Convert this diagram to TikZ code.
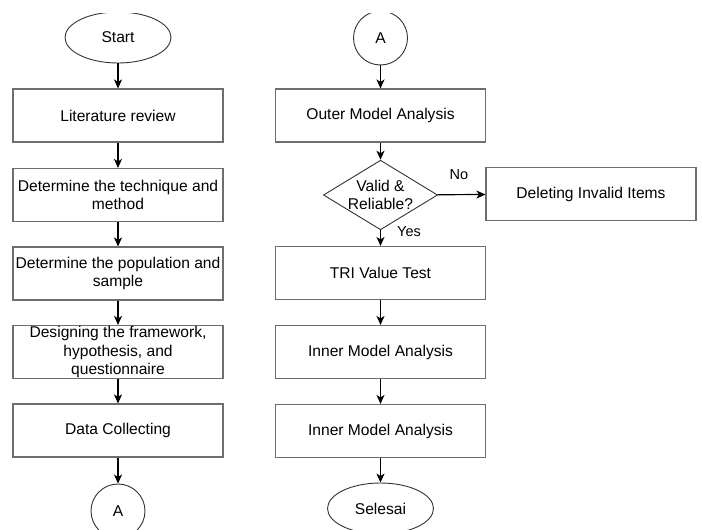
\documentclass[tikz,border=0pt]{standalone}
\usepackage{fontspec}
\setmainfont{Liberation Sans}
\usetikzlibrary{shapes.geometric,arrows.meta}
\definecolor{edgegray}{RGB}{110,110,110}
\tikzset{
  txt/.style={font=\fontsize{15.6}{18.5}\selectfont, text=black, align=center},
  procbox/.style={txt, draw=edgegray, line width=1.1pt, rectangle, minimum width=210pt, minimum height=53pt, inner sep=0pt},
  termnode/.style={txt, draw=black!80, line width=0.9pt, ellipse, minimum width=106pt, minimum height=51pt, inner sep=0pt},
  connnode/.style={txt, draw=black!80, line width=0.9pt, circle, minimum size=54pt, inner sep=0pt},
  decnode/.style={txt, draw=black!80, line width=0.9pt, diamond, minimum width=105pt, minimum height=64pt, inner sep=0pt, aspect=1.64},
  flow/.style={draw=black, line width=1.2pt, -{Stealth[length=9pt,width=8pt,inset=2.5pt]}},
  flowbold/.style={flow, line width=1.8pt},
  lbl/.style={font=\fontsize{14.5}{17}\selectfont, text=black}
}
\begin{document}
\begin{tikzpicture}[x=1pt,y=-1pt]
\useasboundingbox (0,0) rectangle (702,530);
\fill[white] (0,0) rectangle (702,530);
\begin{scope}
\clip (0,13) rectangle (702,530);
% left column
\node[termnode] (start) at (118,37.5) {Start};
\node[procbox] (b1) at (118,115.5) {Literature review};
\node[procbox] (b2) at (118,195) {Determine the technique and\\method};
\node[procbox] (b3) at (118,273.5) {Determine the population and\\sample};
\node[procbox] (b4) at (118,352) {Designing the framework,\\hypothesis, and\\questionnaire};
\node[procbox] (b5) at (118,430.5) {Data Collecting};
\node[connnode] (aend) at (118,511) {A};
% right column
\node[connnode] (astart) at (380.5,38) {A};
\node[procbox] (outer) at (380.5,115.5) {Outer Model Analysis};
\node[decnode] (valid) at (380.5,195) {Valid \&\\Reliable?};
\node[procbox] (del) at (591,194) {Deleting Invalid Items};
\node[procbox] (tri) at (380.5,273) {TRI Value Test};
\node[procbox] (inner1) at (380.5,352) {Inner Model Analysis};
\node[procbox] (inner2) at (380.5,431) {Inner Model Analysis};
\node[termnode] (end) at (380.5,508.5) {Selesai};
\end{scope}
% connectors
\draw[flowbold] (start) -- (b1);
\draw[flowbold] (b1) -- (b2);
\draw[flowbold] (b2) -- (b3);
\draw[flowbold] (b3) -- (b4);
\draw[flowbold] (b4) -- (b5);
\draw[flowbold] (b5) -- (aend);
\draw[flow] (astart) -- (outer);
\draw[flow] (outer) -- (valid);
\draw[flow] (valid) -- (del);
\draw[flow] (valid) -- (tri);
\draw[flow] (tri) -- (inner1);
\draw[flow] (inner1) -- (inner2);
\draw[flow] (inner2) -- (end);
\node[lbl] (nolbl) at (459,175) {No};
\node[lbl] (yeslbl) at (409,232) {Yes};
\end{tikzpicture}
\end{document}
